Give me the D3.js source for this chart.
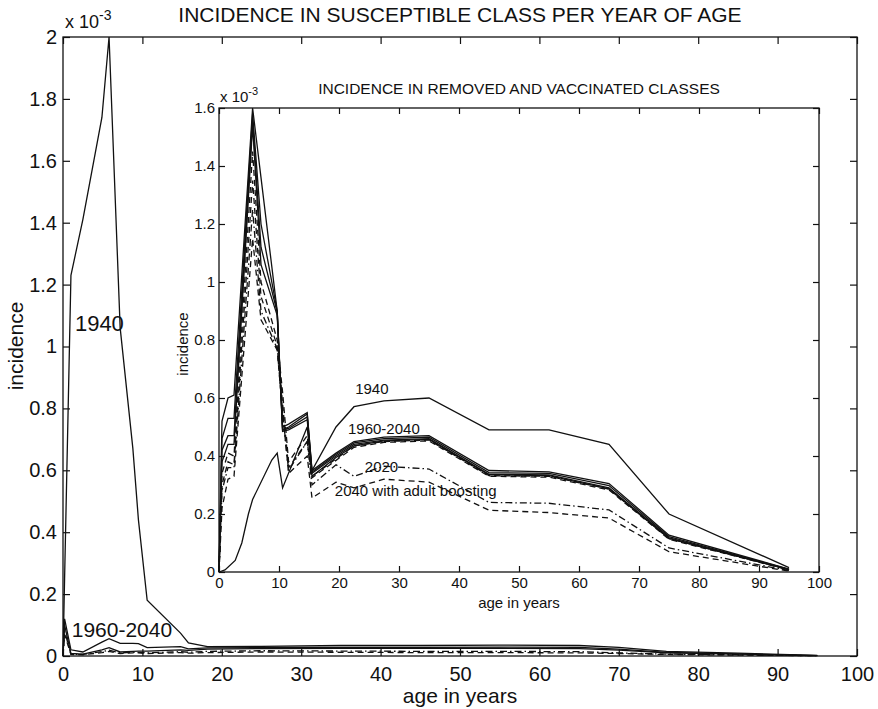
<!DOCTYPE html>
<html>
<head>
<meta charset="utf-8">
<script src="https://cdn.jsdelivr.net/npm/d3@7"></script>
<style>
  body { margin: 0; background: #fff; }
  svg text { font-family: "Liberation Sans", Arial, Helvetica, sans-serif; fill: #111; }
</style>
</head>
<body>
<div id="chart"></div>
<script>
// values are incidence in units of 1e-3 (axis multiplier "x 10^-3")

// main axes: susceptible class
const mainAges = [0, 0.2, 1, 2.5, 4.9, 5.8, 7.2, 8.8, 9.5, 10.6, 14.8, 15.8, 18.2, 25, 35, 45, 55, 65, 70, 76, 85, 95];
const main1940 = [0, 0.25, 1.23, 1.41, 1.74, 2.0, 1.06, 0.67, 0.44, 0.18, 0.074, 0.042, 0.03, 0.031, 0.034, 0.034, 0.035, 0.034, 0.028, 0.015, 0.009, 0.002];
const main1960 = [0, 0.12, 0.02, 0.013, 0.045, 0.056, 0.041, 0.041, 0.04, 0.027, 0.03, 0.023, 0.026, 0.027, 0.028, 0.028, 0.029, 0.028, 0.022, 0.012, 0.007, 0.001];
const main2000 = [0, 0.10, 0.008, 0.006, 0.02, 0.027, 0.013, 0.015, 0.016, 0.016, 0.02, 0.018, 0.022, 0.024, 0.025, 0.025, 0.025, 0.024, 0.019, 0.01, 0.006, 0.001];
const main2020 = [0, 0.08, 0.006, 0.005, 0.014, 0.019, 0.01, 0.012, 0.012, 0.01, 0.014, 0.012, 0.015, 0.017, 0.016, 0.015, 0.015, 0.014, 0.01, 0.006, 0.004, 0.001];
const main2040b = [0, 0.07, 0.005, 0.004, 0.011, 0.015, 0.008, 0.01, 0.01, 0.008, 0.011, 0.009, 0.011, 0.013, 0.012, 0.011, 0.011, 0.01, 0.008, 0.005, 0.003, 0.001];

// inset axes: removed and vaccinated classes
const insetAges = [0, 0.5, 1.5, 2.5, 5.6, 7, 9.7, 10.6, 11.6, 14.7, 15.5, 19.5, 22.5, 27.5, 35, 45, 55, 65, 75, 95];
const in1940 = [0, 0.52, 0.60, 0.61, 1.60, 1.36, 0.90, 0.50, 0.51, 0.55, 0.35, 0.50, 0.57, 0.59, 0.60, 0.49, 0.49, 0.44, 0.20, 0.015];
const in1960 = [0, 0.46, 0.53, 0.53, 1.58, 1.20, 0.90, 0.49, 0.50, 0.545, 0.35, 0.41, 0.45, 0.465, 0.47, 0.35, 0.345, 0.305, 0.127, 0.01];
const in1980 = [0, 0.42, 0.47, 0.47, 1.56, 1.12, 0.895, 0.49, 0.495, 0.535, 0.345, 0.405, 0.445, 0.46, 0.465, 0.343, 0.34, 0.298, 0.122, 0.009];
const in2000 = [0, 0.38, 0.44, 0.44, 1.54, 1.06, 0.885, 0.485, 0.49, 0.525, 0.34, 0.40, 0.44, 0.455, 0.46, 0.337, 0.335, 0.29, 0.118, 0.008];
const vac1 = [0, 0.34, 0.41, 0.40, 1.45, 1.00, 0.80, 0.62, 0.38, 0.47, 0.33, 0.39, 0.435, 0.45, 0.455, 0.332, 0.33, 0.286, 0.115, 0.008];
const vac2 = [0, 0.30, 0.38, 0.37, 1.35, 0.95, 0.78, 0.58, 0.36, 0.45, 0.325, 0.385, 0.43, 0.447, 0.452, 0.33, 0.327, 0.283, 0.113, 0.007];
const in2020 = [0, 0.28, 0.36, 0.36, 1.25, 0.90, 0.77, 0.55, 0.35, 0.45, 0.30, 0.37, 0.33, 0.365, 0.355, 0.24, 0.237, 0.214, 0.083, 0.005];
const in2040b = [0, 0.22, 0.32, 0.33, 1.15, 0.87, 0.765, 0.55, 0.34, 0.40, 0.255, 0.31, 0.29, 0.32, 0.31, 0.213, 0.205, 0.186, 0.07, 0.003];
// removed class, low starting curve
const removedAges = [0, 1, 2.7, 3.8, 4.9, 5.6, 8.8, 9.7, 10.6, 14.7, 15.5, 19.5, 22.5, 27.5, 35, 45, 55, 65, 75, 95];
const removedVals = [0, 0.007, 0.04, 0.10, 0.20, 0.25, 0.386, 0.41, 0.29, 0.50, 0.33, 0.395, 0.435, 0.452, 0.457, 0.335, 0.332, 0.287, 0.116, 0.008];

const W = 878, H = 709;
const ink = "#111";
const fmt = d3.format("~g");

const svg = d3.select("#chart")
  .append("svg")
    .attr("width", W)
    .attr("height", H);

svg.append("rect").attr("width", W).attr("height", H).attr("fill", "#fff");

// box with inward ticks on all four sides (matlab style)
function frame(g, x, y, tick, padX, padY, fs) {
  const [x0, x1] = x.range(), [y0, y1] = y.range();
  g.append("rect")
    .attr("x", x0).attr("y", y1)
    .attr("width", x1 - x0).attr("height", y0 - y1)
    .attr("fill", "#fff").attr("stroke", ink).attr("stroke-width", 1.3);

  const axes = [
    [d3.axisBottom(x).ticks(10).tickPadding(padY).tickFormat(fmt), `translate(0,${y0})`],
    [d3.axisTop(x).ticks(10).tickFormat(""), `translate(0,${y1})`],
    [d3.axisLeft(y).ticks(10).tickPadding(padX).tickFormat(fmt), `translate(${x0},0)`],
    [d3.axisRight(y).ticks(10).tickFormat(""), `translate(${x1},0)`]
  ];
  axes.forEach(([ax, tr]) => {
    const a = g.append("g")
      .attr("transform", tr)
      .call(ax.tickSizeInner(-tick).tickSizeOuter(0));
    a.attr("font-family", null).attr("font-size", fs);
    a.select(".domain").remove();
    a.selectAll(".tick line").attr("stroke", ink).attr("stroke-width", 1.2);
  });
}

function series(g, x, y, ages, vals, dash, sw) {
  const pts = ages.map((a, i) => [a, vals[i]]);
  g.append("path")
    .datum(pts)
    .attr("d", d3.line().x(d => x(d[0])).y(d => y(d[1])))
    .attr("fill", "none")
    .attr("stroke", ink)
    .attr("stroke-width", sw || 1.3)
    .attr("stroke-dasharray", dash || null);
}

const DASH = "6,4", DASHDOT = "7,3,1.5,3";

// ---------- main axes ----------
const xM = d3.scaleLinear().domain([0, 100]).range([63, 857]);
const yM = d3.scaleLinear().domain([0, 2]).range([656, 37]);
const gM = svg.append("g");
frame(gM, xM, yM, 7, 6, 11, 20);

series(gM, xM, yM, mainAges, main2040b, DASH);
series(gM, xM, yM, mainAges, main2020, DASHDOT);
series(gM, xM, yM, mainAges, main2000);
series(gM, xM, yM, mainAges, main1960);
series(gM, xM, yM, mainAges, main1940);

gM.append("text").attr("x", xM(1.5)).attr("y", yM(1.05)).attr("font-size", 22).text("1940");
gM.append("text").attr("x", xM(1.1)).attr("y", yM(0.06)).attr("font-size", 21).text("1960-2040");

// multiplier
const mM = gM.append("text").attr("x", 65).attr("y", 28).attr("font-size", 18);
mM.append("tspan").text("x 10");
mM.append("tspan").attr("dy", -8).attr("font-size", 14).text("-3");

svg.append("text")
  .attr("x", 460).attr("y", 22)
  .attr("text-anchor", "middle").attr("font-size", 21)
  .text("INCIDENCE IN SUSCEPTIBLE CLASS PER YEAR OF AGE");

svg.append("text")
  .attr("x", 460).attr("y", 703)
  .attr("text-anchor", "middle").attr("font-size", 21)
  .text("age in years");

svg.append("text")
  .attr("transform", "translate(23,346) rotate(-90)")
  .attr("text-anchor", "middle").attr("font-size", 21)
  .text("incidence");

// ---------- inset axes ----------
const xI = d3.scaleLinear().domain([0, 100]).range([219, 819]);
const yI = d3.scaleLinear().domain([0, 1.6]).range([572, 108]);
const gI = svg.append("g");
frame(gI, xI, yI, 6, 4, 5, 15);

series(gI, xI, yI, insetAges, in2040b, DASH);
series(gI, xI, yI, insetAges, in2020, DASHDOT);
series(gI, xI, yI, insetAges, vac2, DASH);
series(gI, xI, yI, insetAges, vac1, DASH);
series(gI, xI, yI, removedAges, removedVals);
series(gI, xI, yI, insetAges, in2000);
series(gI, xI, yI, insetAges, in1980);
series(gI, xI, yI, insetAges, in1960);
series(gI, xI, yI, insetAges, in1940);

gI.append("text").attr("x", xI(22.7)).attr("y", yI(0.615)).attr("font-size", 15).text("1940");
gI.append("text").attr("x", xI(21.5)).attr("y", yI(0.477)).attr("font-size", 15).text("1960-2040");
gI.append("text").attr("x", xI(24.3)).attr("y", yI(0.345)).attr("font-size", 15).text("2020");
gI.append("text").attr("x", xI(19.3)).attr("y", yI(0.262)).attr("font-size", 15).text("2040 with adult boosting");

const mI = gI.append("text").attr("x", 220).attr("y", 102).attr("font-size", 15);
mI.append("tspan").text("x 10");
mI.append("tspan").attr("dy", -7).attr("font-size", 11).text("-3");

svg.append("text")
  .attr("x", 519).attr("y", 94)
  .attr("text-anchor", "middle").attr("font-size", 15.5)
  .text("INCIDENCE IN REMOVED AND VACCINATED CLASSES");

svg.append("text")
  .attr("x", 519).attr("y", 608)
  .attr("text-anchor", "middle").attr("font-size", 15)
  .text("age in years");

svg.append("text")
  .attr("transform", "translate(188,344) rotate(-90)")
  .attr("text-anchor", "middle").attr("font-size", 15)
  .text("incidence");
</script>
</body>
</html>
